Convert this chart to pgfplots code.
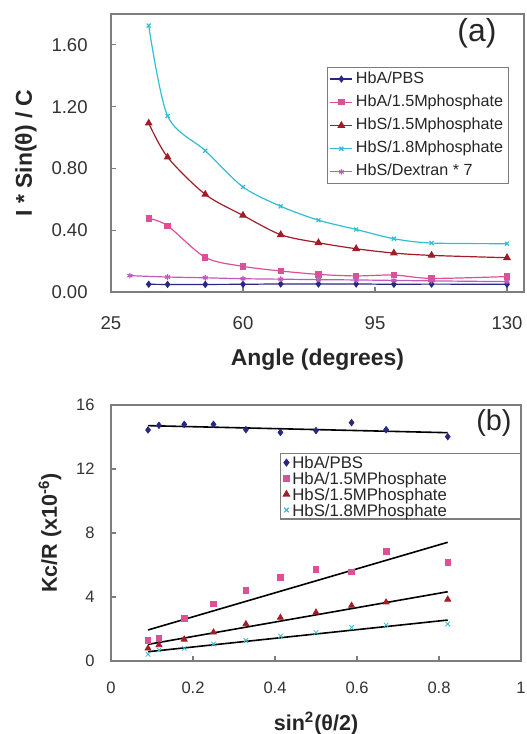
\documentclass[border=0pt]{standalone}
\usepackage{fontspec}
\setmainfont{Liberation Sans}
\usepackage{pgfplots}
\pgfplotsset{compat=1.18}

\definecolor{frameC}{RGB}{125,125,125}
\definecolor{txtC}{RGB}{50,50,50}
\definecolor{cNavy}{RGB}{40,40,130}
\definecolor{cPink}{RGB}{220,80,150}
\definecolor{cRed}{RGB}{160,28,40}
\definecolor{cCyan}{RGB}{50,190,210}
\definecolor{cPurple}{RGB}{190,90,190}

\pgfplotsset{
  panel/.style={
    scale only axis,
    axis line style={frameC, line width=0.8bp},
    tick style={frameC, line width=0.6bp},
    tick align=inside, major tick length=2.5bp,
    xtick pos=bottom, ytick pos=left,
    /pgf/number format/assume math mode=true,
    ticklabel style={text=txtC},
    label style={font=\fontsize{11.5}{13}\bfseries, text=black!85},
  },
}

\begin{document}
\begin{tikzpicture}
\useasboundingbox (-55.5bp,-221bp) rectangle (208bp,146bp);

% ---- panel (a)
\begin{axis}[panel,
  at={(0,0)}, anchor=south west,
  width=206.5bp, height=139bp,
  xmin=25, xmax=134.5, ymin=0, ymax=1.8,
  xtick={25,60,95,130}, xticklabels={25,60,95,130},
  ytick={0,0.4,0.8,1.2,1.6}, yticklabels={0.00,0.40,0.80,1.20,1.60},
  ticklabel style={font=\fontsize{9.3}{11}\selectfont},
  xticklabel style={anchor=center, inner sep=0pt, yshift=-15.5bp},
  yticklabel style={anchor=east, inner sep=0pt, xshift=-11.5bp},
  xlabel={Angle (degrees)},
  ylabel={I * Sin(θ) / C},
  xlabel style={at={(axis description cs:0.5,-0.2446)}, anchor=center},
  ylabel style={at={(axis description cs:-0.2058,0.5)}, anchor=center},
  every axis plot/.append style={line width=0.6bp, smooth, mark size=1.4bp, mark options={solid}},
  legend image code/.code={\draw[mark repeat=2,mark phase=2] plot coordinates {(0bp,0bp)(5.5bp,0bp)(11bp,0bp)};},
  legend style={at={(rel axis cs:0.964,0.809)}, anchor=north east,
    draw=frameC, line width=0.6bp, inner sep=1.2bp, row sep=2.6bp,
    font=\fontsize{8.1}{9.5}\selectfont, text=black!85,
    nodes={inner xsep=1.5bp, inner ysep=0.5bp, text height=6bp, text depth=2bp}},
  legend cell align=left,
]
\addplot[cNavy, mark=diamond*] coordinates {
 (35,0.050) (40,0.049) (50,0.049) (60,0.050) (70,0.052) (80,0.052) (90,0.052) (100,0.050) (110,0.051) (130,0.050)};
\addlegendentry{HbA/PBS}
\addplot[cPink, mark=square*, mark size=1.3bp] coordinates {
 (35,0.477) (40,0.429) (50,0.224) (60,0.166) (70,0.136) (80,0.114) (90,0.104) (100,0.110) (110,0.088) (130,0.100)};
\addlegendentry{HbA/1.5Mphosphate}
\addplot[cRed, mark=triangle*, mark size=1.7bp] coordinates {
 (35,1.093) (40,0.873) (50,0.632) (60,0.496) (70,0.371) (80,0.319) (90,0.280) (100,0.252) (110,0.237) (130,0.222)};
\addlegendentry{HbS/1.5Mphosphate}
\addplot[cCyan, mark=x] coordinates {
 (35,1.725) (40,1.140) (50,0.915) (60,0.680) (70,0.555) (80,0.465) (90,0.405) (100,0.345) (110,0.317) (130,0.313)};
\addlegendentry{HbS/1.8Mphosphate}
\addplot[cPurple, mark=asterisk] coordinates {
 (30,0.106) (40,0.097) (50,0.092) (60,0.086) (70,0.083) (80,0.080) (90,0.078) (100,0.075) (110,0.072) (130,0.067)};
\addlegendentry{HbS/Dextran * 7}
\node[font=\fontsize{16}{18}\selectfont, text=black!85] at (rel axis cs:0.886,0.932) {(a)};
\end{axis}

% ---- panel (b)
\begin{axis}[panel,
  at={(0,-184.5bp)}, anchor=south west,
  width=205bp, height=128bp,
  xmin=0, xmax=1, ymin=0, ymax=16,
  xtick={0,0.2,0.4,0.6,0.8,1}, xticklabels={0,0.2,0.4,0.6,0.8,1},
  ytick={0,4,8,12,16}, yticklabels={0,4,8,12,16},
  ticklabel style={font=\fontsize{8.3}{10}\selectfont},
  xticklabel style={anchor=center, inner sep=0pt, yshift=-13.5bp},
  yticklabel style={anchor=east, inner sep=0pt, xshift=-8bp},
  label style={font=\fontsize{10.8}{12}\bfseries},
  xlabel={sin\textsuperscript{2}(θ/2)},
  ylabel={Kc/R (x10\textsuperscript{-6})},
  xlabel style={at={(axis description cs:0.5,-0.245)}, anchor=center},
  ylabel style={at={(axis description cs:-0.1488,0.5)}, anchor=center},
  legend image code/.code={\draw plot coordinates {(5bp,0bp)};},
  legend style={at={(rel axis cs:1,0.8125)}, anchor=north east,
    draw=frameC, line width=0.6bp, inner sep=1.5bp, row sep=1.9bp,
    font=\fontsize{8.4}{9}\selectfont, text=black!85,
    nodes={inner xsep=1.5bp, inner ysep=0bp, text height=6bp, text depth=0bp, text width=111bp}},
  legend cell align=left,
]
\addplot[only marks, cNavy, mark=diamond*, mark size=1.6bp] coordinates {
 (0.0904,14.44) (0.1170,14.73) (0.1786,14.79) (0.2500,14.79) (0.3290,14.46) (0.4132,14.29) (0.5000,14.40) (0.5868,14.90) (0.6710,14.46) (0.8213,14.02)};
\addlegendentry{HbA/PBS}
\addplot[only marks, cPink, mark=square*, mark size=1.4bp] coordinates {
 (0.0904,1.27) (0.1170,1.42) (0.1786,2.67) (0.2500,3.58) (0.3290,4.40) (0.4132,5.21) (0.5000,5.71) (0.5868,5.58) (0.6710,6.85) (0.8213,6.17)};
\addlegendentry{HbA/1.5MPhosphate}
\addplot[only marks, cRed, mark=triangle*, mark size=1.7bp] coordinates {
 (0.0904,0.79) (0.1170,1.00) (0.1786,1.35) (0.2500,1.79) (0.3290,2.31) (0.4132,2.71) (0.5000,3.04) (0.5868,3.46) (0.6710,3.67) (0.8213,3.85)};
\addlegendentry{HbS/1.5MPhosphate}
\addplot[only marks, cCyan, mark=x, mark size=1.6bp] coordinates {
 (0.0904,0.42) (0.1170,0.69) (0.1786,0.79) (0.2500,1.06) (0.3290,1.29) (0.4132,1.56) (0.5000,1.77) (0.5868,2.10) (0.6710,2.25) (0.8213,2.31)};
\addlegendentry{HbS/1.8MPhosphate}
% fitted lines
\addplot[black, line width=0.8bp, forget plot] coordinates {(0.0904,14.71) (0.8213,14.27)};
\addplot[black, line width=0.8bp, forget plot] coordinates {(0.0904,1.94) (0.8213,7.42)};
\addplot[black, line width=0.8bp, forget plot] coordinates {(0.0904,1.04) (0.8213,4.33)};
\addplot[black, line width=0.8bp, forget plot] coordinates {(0.0904,0.58) (0.8213,2.56)};
\node[font=\fontsize{14.5}{16}\selectfont, text=black!85] at (rel axis cs:0.934,0.93) {(b)};
\end{axis}
\end{tikzpicture}
\end{document}
